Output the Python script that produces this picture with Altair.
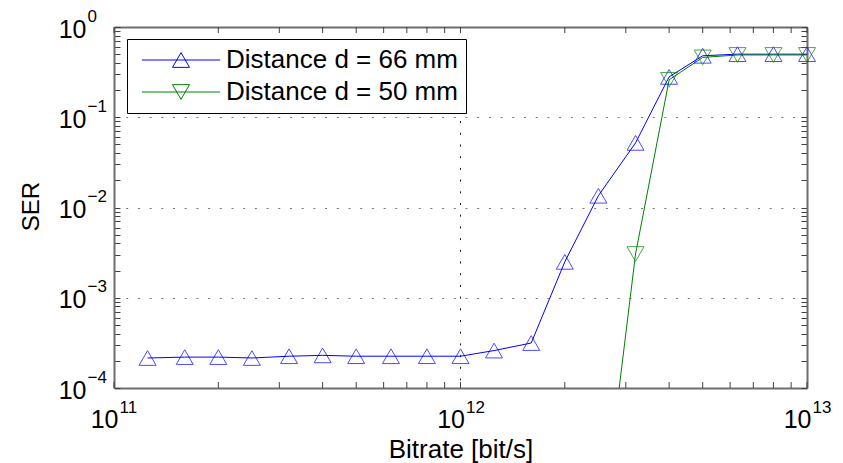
import altair as alt
import pandas as pd

# ---------------- data ----------------
series_names = ["Distance d = 66 mm", "Distance d = 50 mm"]
series_colors = ["#0000ff", "#008000"]

bitrate_66 = [1.25e11, 1.6e11, 2.0e11, 2.5e11, 3.2e11, 4.0e11, 5.0e11, 6.3e11, 8.0e11, 1.0e12,
              1.25e12, 1.6e12, 2.0e12, 2.5e12, 3.2e12, 4.0e12, 5.0e12, 6.3e12, 8.0e12, 1.0e13]
ser_66 = [2.15e-4, 2.2e-4, 2.2e-4, 2.15e-4, 2.25e-4, 2.3e-4, 2.25e-4, 2.25e-4, 2.25e-4, 2.25e-4,
          2.6e-4, 3.15e-4, 2.5e-3, 1.35e-2, 5.2e-2, 0.28, 0.48, 0.50, 0.50, 0.50]

bitrate_50 = [2.5e12, 3.2e12, 4.0e12, 5.0e12, 6.3e12, 8.0e12, 1.0e13]
ser_50 = [1.3e-6, 3.05e-3, 0.26, 0.46, 0.49, 0.49, 0.49]

# tick values and tick labels
x_major = [1e11, 1e12, 1e13]
x_exponents = ["11", "12", "13"]
x_minor = [2e11, 3e11, 4e11, 5e11, 6e11, 7e11, 8e11, 9e11,
           2e12, 3e12, 4e12, 5e12, 6e12, 7e12, 8e12, 9e12]
y_major = [1e-4, 1e-3, 1e-2, 1e-1, 1.0]
y_exponents = ["\u22124", "\u22123", "\u22122", "\u22121", "0"]
y_minor = [2e-4, 3e-4, 4e-4, 5e-4, 6e-4, 7e-4, 8e-4, 9e-4,
           2e-3, 3e-3, 4e-3, 5e-3, 6e-3, 7e-3, 8e-3, 9e-3,
           2e-2, 3e-2, 4e-2, 5e-2, 6e-2, 7e-2, 8e-2, 9e-2,
           2e-1, 3e-1, 4e-1, 5e-1, 6e-1, 7e-1, 8e-1, 9e-1]

# ---------------- tables ----------------
df = pd.DataFrame({
    "bitrate": bitrate_66 + bitrate_50,
    "ser": ser_66 + ser_50,
    "series": [series_names[0]] * len(bitrate_66) + [series_names[1]] * len(bitrate_50),
})
xtick_df = pd.DataFrame({"tick": x_major + x_minor})

# ---------------- styling ----------------
W, H = 693, 361
FONT = "Liberation Sans, Arial, Helvetica, sans-serif"
FRAME = "#6e6e6e"
TICK = "#404040"
TICK_LEN = 6
DASH = [2, 9.7]


def label_expr(values, labels):
    expr = "''"
    for v, lab in zip(values, labels):
        expr = f"abs(datum.value - {v!r}) < {v * 1e-6!r} ? '{lab}' : ({expr})"
    return expr


x_scale = alt.Scale(type="log", domain=[1e11, 1e13], nice=False)
y_scale = alt.Scale(type="log", domain=[1e-4, 1.0], nice=False)
color_scale = alt.Scale(domain=series_names, range=series_colors)

# legend symbols: a line with the triangle marker on it
path_up = "M-4.6,0L4.6,0M-1,0.866L0,-0.866L1,0.866Z"
path_down = "M-4.6,0L4.6,0M-1,-0.866L0,0.866L1,-0.866Z"
shape_scale = alt.Scale(domain=series_names, range=[path_up, path_down])

legend = alt.Legend(title=None, orient="none", legendX=13, legendY=12, padding=8,
                    rowPadding=6, strokeColor="black", fillColor="white",
                    labelFont=FONT, labelFontSize=26, labelColor="black",
                    labelBaseline="middle", labelLimit=0, symbolSize=289,
                    symbolStrokeWidth=1, symbolOffset=33, labelOffset=32,
                    symbolFillColor="transparent", symbolOpacity=1)

common_label = dict(labelFont=FONT, labelColor="black", labelFlush=False,
                    labelOverlap=False, labelBound=False, ticks=False, tickSize=0,
                    domain=False)


def frame_axis(orient, offset, values, ticks):
    return alt.Axis(orient=orient, offset=offset, values=values, labels=False,
                    tickCount=200, ticks=ticks, tickSize=TICK_LEN, tickColor=TICK,
                    tickWidth=1, domain=True, domainColor=FRAME, domainWidth=2,
                    grid=False, title=None)


base = alt.Chart(df)
color_enc = alt.Color("series:N", scale=color_scale, legend=legend)

# legend layer (no visible marks): frame on top and right edges
leg = base.transform_filter(alt.datum.ser > 10).mark_point(
    filled=False, size=289, strokeWidth=1).encode(
    x=alt.X("bitrate:Q", scale=x_scale, axis=frame_axis("bottom", -H, x_major + x_minor, False)),
    y=alt.Y("ser:Q", scale=y_scale, axis=frame_axis("left", -W, y_major + y_minor, True)),
    color=color_enc,
    shape=alt.Shape("series:N", scale=shape_scale, legend=legend),
)

# line layer: "10" labels, grid, titles
line = base.mark_line(strokeWidth=1, clip=True).encode(
    x=alt.X("bitrate:Q", scale=x_scale, axis=alt.Axis(
        orient="bottom", values=x_major, labelExpr="'10'", labelAlign="right", labelOffset=4,
        labelBaseline="alphabetic", labelPadding=39, labelFontSize=25,
        grid=True, gridColor="#1a1a1a", gridDash=DASH, gridWidth=1,
        title="Bitrate [bit/s]", titleFont=FONT, titleFontSize=26, titleFontWeight="normal",
        titleColor="black", titleBaseline="alphabetic", titleY=69, **common_label)),
    y=alt.Y("ser:Q", scale=y_scale, axis=alt.Axis(
        orient="left", values=y_major, labelExpr="'10'", labelAlign="right",
        labelPadding=28, labelBaseline="alphabetic", labelOffset=10, labelFontSize=25,
        grid=True, gridColor="#777777", gridDash=DASH, gridWidth=1,
        title="SER", titleFont=FONT, titleFontSize=24, titleFontWeight="normal",
        titleColor="black", titleBaseline="alphabetic", titleAngle=270,
        titleX=-76, titleY=179, **common_label)),
    color=color_enc,
)

# blue markers: exponent labels
pts_up = base.transform_filter(alt.datum.series == series_names[0]).mark_point(
    shape="triangle-up", filled=False, size=289, strokeWidth=1).encode(
    x=alt.X("bitrate:Q", scale=x_scale, axis=alt.Axis(
        orient="bottom", values=x_major, labelExpr=label_expr(x_major, x_exponents),
        labelAlign="left", labelOffset=5, labelBaseline="alphabetic", labelPadding=24,
        labelFontSize=17, grid=False, title=None, **common_label)),
    y=alt.Y("ser:Q", scale=y_scale, axis=alt.Axis(
        orient="left", values=y_major, labelExpr=label_expr(y_major, y_exponents),
        labelAlign="left", labelPadding=27, labelOffset=-6,
        labelBaseline="alphabetic", labelFontSize=17, grid=False, title=None,
        **common_label)),
    color=color_enc,
)

# green markers: frame on bottom and left edges
pts_down = base.transform_filter(
    (alt.datum.series == series_names[1]) & (alt.datum.ser >= 1e-4)).mark_point(
    shape="triangle-down", filled=False, size=289, strokeWidth=1).encode(
    x=alt.X("bitrate:Q", scale=x_scale, axis=frame_axis("top", -H, x_major + x_minor, False)),
    y=alt.Y("ser:Q", scale=y_scale, axis=frame_axis("right", -W, y_major + y_minor, True)),
    color=color_enc,
)

# inward x ticks on the bottom and top edges, placed by the x scale
xticks_bottom = alt.Chart(xtick_df).mark_rule(color=TICK, strokeWidth=1).encode(
    x=alt.X("tick:Q", scale=x_scale, axis=None),
    y=alt.value(H), y2=alt.value(H - TICK_LEN),
)
xticks_top = alt.Chart(xtick_df).mark_rule(color=TICK, strokeWidth=1).encode(
    x=alt.X("tick:Q", scale=x_scale, axis=None),
    y=alt.value(0), y2=alt.value(TICK_LEN),
)

chart = alt.layer(leg, xticks_bottom, xticks_top, line, pts_up, pts_down).resolve_axis(
    x="independent", y="independent"
).properties(
    width=W, height=H,
    autosize=alt.AutoSizeParams(type="none"),
    padding={"left": 114, "top": 27, "right": 36, "bottom": 75},
    background="white",
).configure_view(stroke="transparent")

chart.save("out.html", embed_options={"renderer": "svg", "actions": False})
